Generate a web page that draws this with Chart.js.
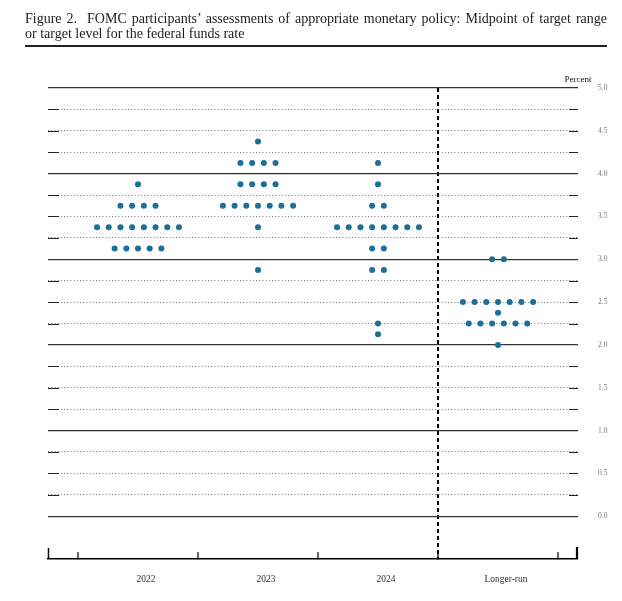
<!DOCTYPE html>
<html>
<head>
<meta charset="utf-8">
<script src="https://cdn.jsdelivr.net/npm/chart.js@4"></script>
<style>
  html, body { margin: 0; padding: 0; background: #fff; }
  #wrap { position: relative; width: 622px; height: 601px; }
  #title {
    position: absolute; left: 25px; top: 11px; width: 582px;
    font-family: "Liberation Serif", "DejaVu Serif", serif;
    font-size: 14px; line-height: 15px; color: #222;
    border-bottom: 2px solid #222; padding-bottom: 4px;
  }
  #title .l1 { text-align: justify; text-align-last: justify; white-space: nowrap; }
  #chart { position: absolute; left: 0; top: 0; }
</style>
</head>
<body>
<div id="wrap">
  <canvas id="chart" width="622" height="601"></canvas>
  <div id="title">
    <div class="l1">Figure 2.&nbsp; FOMC participants’ assessments of appropriate monetary policy: Midpoint of target range</div>
    <div>or target level for the federal funds rate</div>
  </div>
</div>
<script>
// Columns of the dot plot
const columns = ["2022", "2023", "2024", "Longer-run"];

// One entry per participant
const dots2022 = [
  3.875,
  3.625, 3.625, 3.625, 3.625,
  3.375, 3.375, 3.375, 3.375, 3.375, 3.375, 3.375, 3.375,
  3.125, 3.125, 3.125, 3.125, 3.125,
];
const dots2023 = [
  4.375,
  4.125, 4.125, 4.125, 4.125,
  3.875, 3.875, 3.875, 3.875,
  3.625, 3.625, 3.625, 3.625, 3.625, 3.625, 3.625,
  3.375,
  2.875,
];
const dots2024 = [
  4.125,
  3.875,
  3.625, 3.625,
  3.375, 3.375, 3.375, 3.375, 3.375, 3.375, 3.375, 3.375,
  3.125, 3.125,
  2.875, 2.875,
  2.25,
  2.125,
];
const dotsLongerRun = [
  3.0, 3.0,
  2.5, 2.5, 2.5, 2.5, 2.5, 2.5, 2.5,
  2.375,
  2.25, 2.25, 2.25, 2.25, 2.25, 2.25,
  2.0,
];

const DOT_COLOR = "#1b6f98";
const DOT_STEP = 0.0975; // horizontal gap between dots, in column units

// spread equal values side by side around the column centre
function layoutColumn(values, col) {
  const counts = {};
  values.forEach((v) => (counts[v] = (counts[v] || 0) + 1));
  const points = [];
  Object.keys(counts).forEach((key) => {
    const n = counts[key];
    for (let j = 0; j < n; j++) {
      points.push({ x: col + (j - (n - 1) / 2) * DOT_STEP, y: parseFloat(key) });
    }
  });
  return points;
}

const allPoints = [dots2022, dots2023, dots2024, dotsLongerRun]
  .map((vals, i) => layoutColumn(vals, i))
  .flat();

const isWhole = (v) => Math.abs(v - Math.round(v)) < 1e-6;

// end caps on the gridlines, tall ends of the x axis, "Percent"
const framePlugin = {
  id: "frame",
  afterDraw(chart) {
    const { ctx, chartArea: a, scales } = chart;
    ctx.save();
    ctx.strokeStyle = "#222";
    ctx.lineWidth = 1.2;
    scales.y.ticks.forEach((t) => {
      if (isWhole(t.value)) return;
      const y = Math.round(scales.y.getPixelForValue(t.value)) + 0.5;
      ctx.beginPath();
      ctx.moveTo(a.left, y); ctx.lineTo(a.left + 11, y);
      ctx.moveTo(a.right - 9, y); ctx.lineTo(a.right, y);
      ctx.stroke();
    });
    ctx.strokeStyle = "#000";
    ctx.lineWidth = 1.5;
    ctx.beginPath();
    ctx.moveTo(a.left + 0.5, a.bottom); ctx.lineTo(a.left + 0.5, a.bottom - 11);
    ctx.stroke();
    ctx.lineWidth = 2.2;
    ctx.beginPath();
    ctx.moveTo(a.right - 1, a.bottom); ctx.lineTo(a.right - 1, a.bottom - 12);
    ctx.stroke();
    ctx.fillStyle = "#111";
    ctx.font = '9px "Liberation Serif", serif';
    ctx.textAlign = "center";
    ctx.textBaseline = "middle";
    ctx.fillText("Percent", a.right, a.top - 8);
    ctx.restore();
  },
};

new Chart(document.getElementById("chart"), {
  type: "scatter",
  data: {
    datasets: [
      {
        data: allPoints,
        backgroundColor: DOT_COLOR,
        borderColor: DOT_COLOR,
        borderWidth: 0,
        pointRadius: 3,
      },
    ],
  },
  options: {
    responsive: false,
    animation: false,
    layout: { padding: { left: 48, top: 88, right: 0, bottom: 0 } },
    plugins: {
      legend: { display: false },
      tooltip: { enabled: false },
    },
    scales: {
      x: {
        type: "linear",
        position: "bottom",
        min: -0.75,
        max: 3.6667,
        afterBuildTicks: (scale) => {
          scale.ticks = [-0.5, 0, 0.5, 1, 1.5, 2, 2.5, 3, 3.5].map((v) => ({ value: v }));
        },
        afterFit: (scale) => { scale.height = 42; },
        ticks: {
          autoSkip: false,
          maxRotation: 0,
          padding: 22,
          labelOffset: 8,
          color: "#333",
          font: { family: "Liberation Serif", size: 9.5 },
          callback: (v) => (isWhole(v) ? columns[Math.round(v)] : ""),
        },
        grid: {
          drawOnChartArea: true,
          drawTicks: true,
          tickLength: -7,
          color: (c) => (c.tick && c.tick.value === 2.5 ? "#000" : "rgba(0,0,0,0)"),
          lineWidth: (c) => (c.tick && c.tick.value === 2.5 ? 2 : 0),
          tickColor: (c) => (c.tick && isWhole(c.tick.value) ? "rgba(0,0,0,0)" : "#000"),
          tickWidth: 1.2,
        },
        border: {
          display: true,
          color: "#000",
          width: 1.5,
          dash: (c) => (c.tick && c.tick.value === 2.5 ? [4, 3] : []),
        },
      },
      y: {
        position: "right",
        min: -0.5,
        max: 5,
        afterBuildTicks: (scale) => {
          const t = [];
          for (let i = 0; i <= 20; i++) t.push({ value: i * 0.25 });
          scale.ticks = t;
        },
        afterFit: (scale) => { scale.width = 44; },
        ticks: {
          autoSkip: false,
          padding: 20,
          color: "#777",
          font: { family: "Liberation Serif", size: 7.5 },
          callback: (v) => (isWhole(v * 2) ? v.toFixed(1) : ""),
        },
        grid: {
          drawTicks: false,
          color: (c) => (c.tick && isWhole(c.tick.value) ? "#333" : "#777"),
          lineWidth: (c) => (c.tick && isWhole(c.tick.value) ? 1.3 : 1),
        },
        border: {
          display: false,
          dash: (c) => (c.tick && !isWhole(c.tick.value) ? [1, 2.2] : []),
        },
      },
    },
  },
  plugins: [framePlugin],
});
</script>
</body>
</html>
